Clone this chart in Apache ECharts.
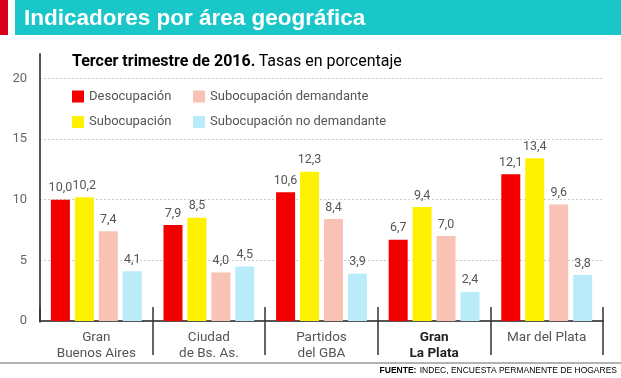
<!DOCTYPE html>
<html><head><meta charset="utf-8">
<script src="https://cdn.jsdelivr.net/npm/echarts@6/dist/echarts.min.js"></script>
<style>html,body{margin:0;padding:0;background:#fff}#c{width:621px;height:378px}</style>
</head><body><div id="c"></div>
<script>
const categories = ['Gran\nBuenos Aires', 'Ciudad\nde Bs. As.', 'Partidos\ndel GBA', 'Gran\nLa Plata', 'Mar del Plata'];
const desocupacion = [10.0, 7.9, 10.6, 6.7, 12.1];
const subocupacion = [10.2, 8.5, 12.3, 9.4, 13.4];
const subDemandante = [7.4, 4.0, 8.4, 7.0, 9.6];
const subNoDemandante = [4.1, 4.5, 3.9, 2.4, 3.8];
const yTicks = [0, 5, 10, 15, 20];

const NARROW = 'Roboto, "Liberation Sans", sans-serif';
const chart = echarts.init(document.getElementById('c'), null, {renderer: 'canvas'});
const lbl = {show: true, position: 'top', distance: 5, color: '#555', fontFamily: NARROW, fontSize: 12.5,
  formatter: p => p.value.toFixed(1).replace('.', ',')};
function ser(name, data, color) {
  return {name, type: 'bar', data, barWidth: 19, barGap: '26%', itemStyle: {color}, label: lbl, xAxisIndex: 0};
}
chart.setOption({
  animation: false,
  grid: {left: 40, right: 18, top: 54, bottom: 57, containLabel: false},
  legend: [
    {left: 72, top: 90, padding: 0, orient: 'vertical', itemWidth: 12, itemHeight: 12, itemGap: 12.5, icon: 'rect',
     textStyle: {color: '#555', fontFamily: NARROW, fontSize: 13}, data: ['Desocupación', 'Subocupación'], selectedMode: false},
    {left: 193, top: 90, padding: 0, orient: 'vertical', itemWidth: 12, itemHeight: 12, itemGap: 12.5, icon: 'rect',
     textStyle: {color: '#555', fontFamily: NARROW, fontSize: 13}, data: ['Subocupación demandante', 'Subocupación no demandante'], selectedMode: false}
  ],
  xAxis: [
    {type: 'category', data: categories, position: 'bottom',
     axisLine: {lineStyle: {color: '#555', width: 2}},
     axisTick: {show: true, length: 34, lineStyle: {color: '#333', width: 1.5}},
     axisLabel: {margin: 9, color: '#555', fontFamily: NARROW, fontSize: 13.5, lineHeight: 16, interval: 0,
       formatter: v => v === 'Gran\nLa Plata' ? '{b|Gran}\n{b|La Plata}' : v,
       rich: {b: {fontWeight: 'bold', color: '#222', fontFamily: NARROW, fontSize: 13.5, lineHeight: 16}}}},
    {type: 'category', data: categories, position: 'bottom',
     axisLine: {show: false}, axisLabel: {show: false},
     axisTick: {show: true, inside: true, length: 14, lineStyle: {color: '#333', width: 1.5}}}
  ],
  yAxis: {type: 'value', min: 0, max: 22, interval: 5,
    axisLine: {show: true, lineStyle: {color: '#555', width: 2}},
    axisTick: {show: false},
    axisLabel: {color: '#666', fontFamily: NARROW, fontSize: 13, margin: 13, padding: [0, 0, 7, 0],
      formatter: v => yTicks.includes(v) ? String(v) : ''},
    splitLine: {show: true, showMaxLine: false, lineStyle: {color: '#ccc', type: [2, 2], width: 1}}},
  series: [
    ser('Desocupación', desocupacion, '#f20000'),
    ser('Subocupación', subocupacion, '#fff200'),
    ser('Subocupación demandante', subDemandante, '#f8c3b5'),
    ser('Subocupación no demandante', subNoDemandante, '#b9ecf8')
  ],
  graphic: [
    {type: 'rect', shape: {x: 0, y: 0, width: 8, height: 35}, style: {fill: '#d8001c'}},
    {type: 'rect', shape: {x: 15, y: 0, width: 606, height: 35}, style: {fill: '#19c6c8'}},
    {type: 'text', x: 24, y: 7, style: {text: 'Indicadores por área geográfica', fill: '#fff',
      font: 'bold 22.5px "Liberation Sans", Arial, sans-serif'}},
    {type: 'text', x: 72, y: 54, style: {text: '{b|Tercer trimestre de 2016.} {n|Tasas en porcentaje}',
      rich: {b: {fontWeight: 'bold', fontSize: 16, fontFamily: NARROW, color: '#222'},
             n: {fontSize: 16, fontFamily: NARROW, color: '#444'}}}},
    {type: 'rect', z: 100, shape: {x: 37, y: 322.5, width: 5, height: 36}, style: {fill: '#fff'}},
    {type: 'line', shape: {x1: 0, y1: 363, x2: 621, y2: 363}, style: {stroke: '#9a9a9a', lineWidth: 1.5}},
    {type: 'text', right: 4, y: 365, style: {text: '{b|FUENTE:} {n|INDEC, ENCUESTA PERMANENTE DE HOGARES}',
      rich: {b: {fontWeight: 'bold', fontSize: 8.5, fontFamily: '"Liberation Sans", Arial, sans-serif', color: '#333'},
             n: {fontSize: 8.5, fontFamily: '"Liberation Sans", Arial, sans-serif', color: '#777'}}}}
  ]
});
</script></body></html>
